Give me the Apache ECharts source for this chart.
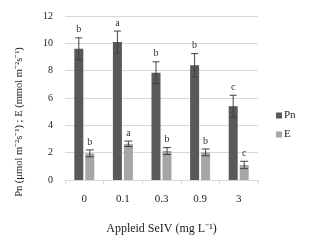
<!DOCTYPE html>
<html><head><meta charset="utf-8">
<script src="https://cdn.jsdelivr.net/npm/echarts@6/dist/echarts.min.js"></script>
<style>html,body{margin:0;padding:0;background:#fff}#c{width:312px;height:247px}</style>
</head><body><div id="c"></div>
<script>
var categories = ['0', '0.1', '0.3', '0.9', '3'];
var pnValues = [9.6, 10.1, 7.85, 8.4, 5.4];
var pnErrors = [0.8, 0.8, 0.8, 0.85, 0.8];
var pnLetters = ['b', 'a', 'b', 'b', 'c'];
var eValues = [1.95, 2.65, 2.12, 2.02, 1.1];
var eErrors = [0.25, 0.2, 0.25, 0.25, 0.27];
var eLetters = ['b', 'a', 'b', 'b', 'c'];
var yTicks = [0, 2, 4, 6, 8, 10, 12];

var font = 'Liberation Serif';
var chart = echarts.init(document.getElementById('c'));

function errSeries(name, values, errors, letters, offset, cap) {
  return {
    type: 'custom',
    name: name + 'err',
    z: 10,
    data: values.map(function (v, i) { return [i, v, errors[i], letters[i]]; }),
    renderItem: function (params, api) {
      var i = api.value(0), v = api.value(1), e = api.value(2);
      var c = api.coord([i, v]);
      var top = api.coord([i, v + e]);
      var bot = api.coord([i, v - e]);
      var x = c[0] + offset;
      var st = { stroke: '#404040', lineWidth: 1 };
      return { type: 'group', children: [
        { type: 'line', shape: { x1: x, y1: top[1], x2: x, y2: bot[1] }, style: st },
        { type: 'line', shape: { x1: x - cap, y1: top[1], x2: x + cap, y2: top[1] }, style: st },
        { type: 'line', shape: { x1: x - cap, y1: bot[1], x2: x + cap, y2: bot[1] }, style: st },
        { type: 'text', style: { text: letters[params.dataIndex], x: x, y: top[1] - 3, textAlign: 'center', textVerticalAlign: 'bottom', font: '10px "' + font + '"', fill: '#333' } }
      ]};
    },
    tooltip: { show: false }
  };
}

chart.setOption({
  animation: false,
  grid: { left: 65, right: 54, top: 16, bottom: 67 },
  legend: {
    orient: 'vertical', left: 271, top: 105, itemWidth: 6, itemHeight: 6, itemGap: 8,
    icon: 'rect',
    data: ['Pn', 'E'],
    textStyle: { fontFamily: font, fontSize: 11, color: '#222', padding: [0, 0, 0, -3] }
  },
  xAxis: {
    type: 'category', data: categories,
    axisLine: { lineStyle: { color: '#d9d9d9' } },
    axisTick: { show: true, length: 4, lineStyle: { color: '#d9d9d9' } },
    axisLabel: { fontFamily: font, fontSize: 11, color: '#222', margin: 14 },
    name: 'Appleid SeIV (mg L\u207B\u00B9)', nameLocation: 'middle', nameGap: 43,
    nameTextStyle: { fontFamily: font, fontSize: 12, color: '#222' }
  },
  yAxis: {
    type: 'value', min: 0, max: 12, interval: 2,
    axisLine: { show: false }, axisTick: { show: false },
    splitLine: { lineStyle: { color: '#d9d9d9' } },
    axisLabel: { fontFamily: font, fontSize: 10, color: '#222', margin: 12,
      formatter: function (v) { return yTicks.indexOf(v) >= 0 ? String(v) : ''; } }
  },
  graphic: [{
    type: 'text', x: 19, y: 122, rotation: Math.PI / 2,
    style: { text: 'Pn (\u03BCmol m\u207B\u00B2s\u207B\u00B9) ; E (mmol m\u207B\u00B2s\u207B\u00B9)',
      textAlign: 'center', textVerticalAlign: 'middle', font: '10.5px "' + font + '"', fill: '#222' }
  }],
  series: [
    { type: 'bar', name: 'Pn', data: pnValues, barWidth: 9, barGap: '22%', itemStyle: { color: '#595959' } },
    { type: 'bar', name: 'E', data: eValues, barWidth: 9, itemStyle: { color: '#a6a6a6' } },
    errSeries('Pn', pnValues, pnErrors, pnLetters, -5.5, 3.5),
    errSeries('E', eValues, eErrors, eLetters, 5.5, 4)
  ]
});
</script></body></html>
